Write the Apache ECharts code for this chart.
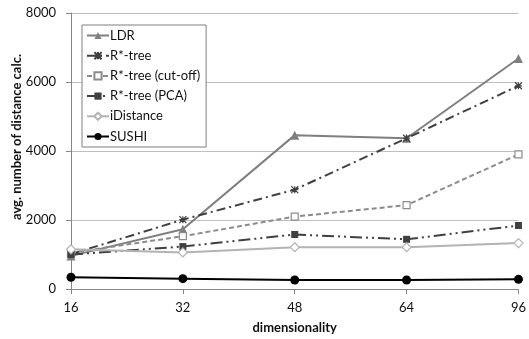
<!DOCTYPE html>
<html>
<head>
<meta charset="utf-8">
<script src="https://cdn.jsdelivr.net/npm/echarts@6/dist/echarts.min.js"></script>
<style>
  html, body { margin: 0; padding: 0; background: #fff; }
  #chart { width: 529px; height: 339px; }
</style>
</head>
<body>
<div id="chart"></div>
<script>
// Dimensionality on the x axis
const dims = ['16', '32', '48', '64', '96'];

// Average number of distance calculations per method
const ldr        = [960, 1730, 4460, 4370, 6680];
const rstar      = [1010, 2010, 2880, 4370, 5890];
const rstarCut   = [1050, 1530, 2100, 2430, 3900];
const rstarPca   = [1000, 1230, 1580, 1440, 1840];
const iDistance  = [1150, 1060, 1210, 1210, 1330];
const sushi      = [340, 300, 260, 260, 280];

const yTicks = [0, 2000, 4000, 6000, 8000];

const FONT = 'Lato, "Liberation Sans", sans-serif';

// Asterisk marker drawn as strokes
const asterisk = 'path://M0,0L10,10M10,0L0,10M0,5L10,5M5,0L5,10';

function line(name, data, color, width, type, symbol, size, filled) {
  return {
    name, type: 'line', data,
    symbol, symbolSize: size, showAllSymbol: true,
    lineStyle: { color, width, type },
    itemStyle: filled
      ? { color, borderColor: color, borderWidth: 0 }
      : { color: '#fff', borderColor: color, borderWidth: 1.2 },
    emphasis: { disabled: true },
    animation: false
  };
}

const chart = echarts.init(document.getElementById('chart'));
chart.setOption({
  animation: false,
  grid: { left: 71, right: 8, top: 13, bottom: 47, containLabel: false },
  legend: {
    orient: 'vertical',
    left: 82, top: 25,
    padding: [4, 6, 4, 4],
    itemWidth: 22, itemHeight: 9, itemGap: 7.2,
    backgroundColor: '#fff',
    borderColor: '#7f7f7f', borderWidth: 1,
    textStyle: { fontFamily: FONT, fontSize: 13, color: '#111', padding: [0, 0, 0, -4] },
    data: ['LDR', 'R*-tree', 'R*-tree (cut-off)', 'R*-tree (PCA)', 'iDistance', 'SUSHI']
  },
  xAxis: {
    type: 'category', data: dims, boundaryGap: false,
    name: 'dimensionality', nameLocation: 'middle', nameGap: 32,
    nameTextStyle: { fontFamily: FONT, fontSize: 13, fontWeight: 'bold', color: '#111' },
    axisLine: { lineStyle: { color: '#868686', width: 1 } },
    axisTick: { show: true, alignWithLabel: true, length: 5, lineStyle: { color: '#868686' } },
    axisLabel: { fontFamily: FONT, fontSize: 13, color: '#111', margin: 12 },
    splitLine: { show: false }
  },
  yAxis: {
    type: 'value', min: yTicks[0], max: yTicks[yTicks.length - 1], interval: 2000,
    axisLine: { show: true, lineStyle: { color: '#868686', width: 1 } },
    axisTick: { show: true, length: 5, lineStyle: { color: '#868686' } },
    axisLabel: { fontFamily: FONT, fontSize: 13, color: '#111', margin: 15, formatter: v => String(v) },
    splitLine: { show: true, lineStyle: { color: '#c0c0c0', width: 1 } }
  },
  graphic: [{
    type: 'text',
    x: 17, y: 137,
    rotation: Math.PI / 2,
    style: {
      text: 'avg. number of distance calc.',
      font: 'bold 13px ' + FONT,
      fill: '#111',
      align: 'center', verticalAlign: 'middle'
    }
  }],
  series: [
    line('LDR', ldr, '#7f7f7f', 2, 'solid', 'triangle', 9, true),
    line('R*-tree', rstar, '#404040', 2, [9, 4, 2, 4], asterisk, 7, false),
    line('R*-tree (cut-off)', rstarCut, '#8c8c8c', 2, [5, 3], 'rect', 7, false),
    line('R*-tree (PCA)', rstarPca, '#404040', 2, [12, 4, 2, 4, 2, 4], 'rect', 7, true),
    line('iDistance', iDistance, '#b3b3b3', 2, 'solid', 'diamond', 9, false),
    line('SUSHI', sushi, '#000000', 2, 'solid', 'circle', 9, true)
  ]
});
</script>
</body>
</html>
